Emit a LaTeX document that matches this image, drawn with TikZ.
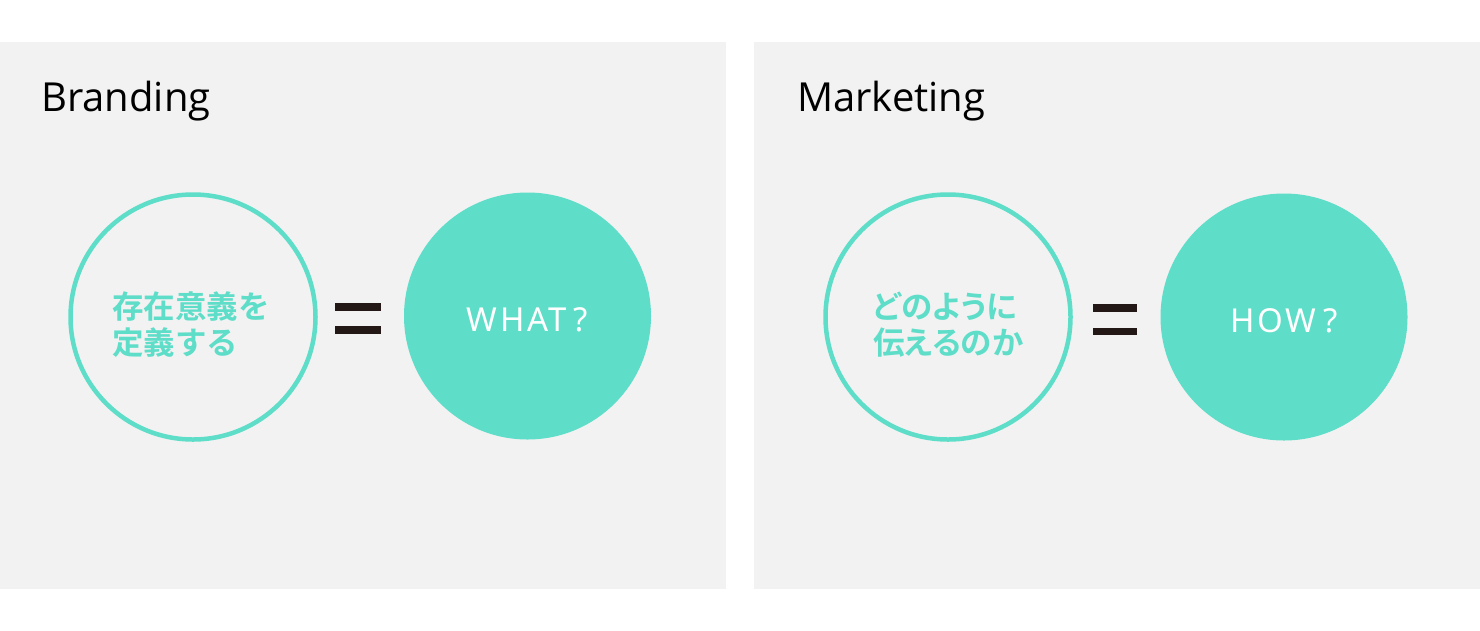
\documentclass[tikz,border=0pt]{standalone}
\usepackage{fontspec}
\setmainfont{Open Sans}
\newfontfamily\cjk{Noto Sans CJK JP}[BoldFont={* Bold}]
\newfontfamily\cjkp{Noto Sans CJK JP}[BoldFont={* Bold},RawFeature=+palt]
\newfontfamily\latin{Noto Sans}[LetterSpace=8]
\definecolor{teal}{HTML}{5EDDC8}
\definecolor{panel}{HTML}{F2F2F2}
\definecolor{eqc}{HTML}{231815}
\begin{document}
\begin{tikzpicture}[x=1pt,y=-1pt,
  panelbox/.style={fill=panel,draw=none},
  title/.style={anchor=base west,font=\fontsize{40}{46}\selectfont,text=black,inner sep=0},
  ring/.style={circle,draw=teal,line width=4.5pt,fill=none,minimum size=245pt,inner sep=0},
  disc/.style={circle,fill=teal,draw=none,minimum size=247pt,inner sep=0},
  jp/.style={align=left,anchor=west,inner sep=0,text=teal,font=\cjk\bfseries\fontsize{31.5}{36}\selectfont},
  jpp/.style={jp,font=\cjkp\bfseries\fontsize{31.5}{36}\selectfont},
  en/.style={text=white,font=\latin\fontsize{33}{36}\selectfont},
  bar/.style={fill=eqc,draw=none}]
\fill[white] (0,0) rectangle (1480,630);
\useasboundingbox (0,0) rectangle (1480,630);
\fill[panelbox] (0,42) rectangle (726,589);
\fill[panelbox] (754,42) rectangle (1480,589);
\node[title] (t1) at (41,111) {Branding};
\node[title] (t2) at (797,111) {Marketing};
% left
\node[ring] (r1) at (193,317) {};
\node[jp] (j1) at ([xshift=-81pt,yshift=-8pt]r1.center) {存在意義を\\定義する};
\node[disc] (d1) at (527.5,316) {};
\node[en] (e1) at ([yshift=-4pt]d1.center) {WHAT\hspace{7pt}?};
\fill[bar] (335,303) rectangle (381,311);
\fill[bar] (335,326) rectangle (381,334);
% right
\node[ring] (r2) at (948,317) {};
\node[jpp] (j2) at ([xshift=-75pt,yshift=-8pt]r2.center) {どのように\\伝えるのか};
\node[disc] (d2) at (1284,317) {};
\node[en] (e2) at ([yshift=-4pt]d2.center) {HOW\hspace{7pt}?};
\fill[bar] (1093,304) rectangle (1137,311.5);
\fill[bar] (1093,327.5) rectangle (1137,335);
\end{tikzpicture}
\end{document}
